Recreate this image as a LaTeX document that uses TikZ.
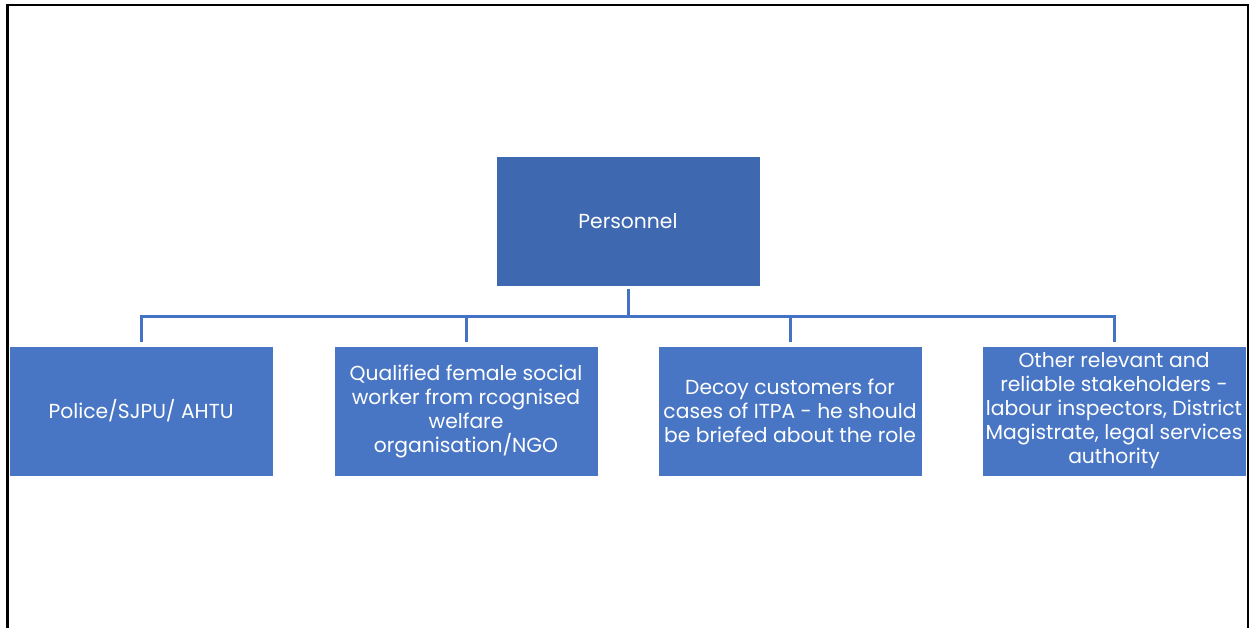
\documentclass[tikz,border=0pt]{standalone}
\usepackage{fontspec}
\setmainfont{Poppins}
\definecolor{topblue}{HTML}{3E68B0}
\definecolor{boxblue}{HTML}{4876C4}
\definecolor{lineblue}{HTML}{4472C4}
\begin{document}
\begin{tikzpicture}[x=1pt,y=-1pt,
    topbox/.style={fill=topblue, draw=white, line width=0.6pt, minimum width=264pt, minimum height=130pt,
        text=white, font=\fontsize{20.3}{24}\selectfont, align=center, inner sep=1pt},
    subbox/.style={topbox, fill=boxblue},
    conn/.style={draw=lineblue, line width=3pt}]
    \useasboundingbox (0,0) rectangle (1250,628);
    % Marco
    \draw[line width=2.5pt] (7.5,630) -- (7.5,5) -- (1248,5) -- (1248,630);
    % Caja superior
    \node[topbox] (per) at (628,221) {Personnel};
    % Cajas inferiores
    \node[subbox] (c1) at (141,411) {Police/SJPU/ AHTU};
    \node[subbox] (c2) at (466,411) {Qualified female social\\worker from rcognised\\welfare\\organisation/NGO};
    \node[subbox] (c3) at (790,411) {Decoy customers for\\cases of ITPA - he should\\be briefed about the role};
    \node[subbox] (c4) at (1114,411) {Other relevant and\\reliable stakeholders -\\labour inspectors, District\\Magistrate, legal services\\authority};
    % Conectores
    \coordinate (bus) at (628,316);
    \draw[conn, shorten <=3pt] (per.south) -- (bus);
    \foreach \c in {c1,c2,c3,c4}
        \draw[conn, shorten >=4pt] (bus) -| (\c.north);
\end{tikzpicture}
\end{document}
